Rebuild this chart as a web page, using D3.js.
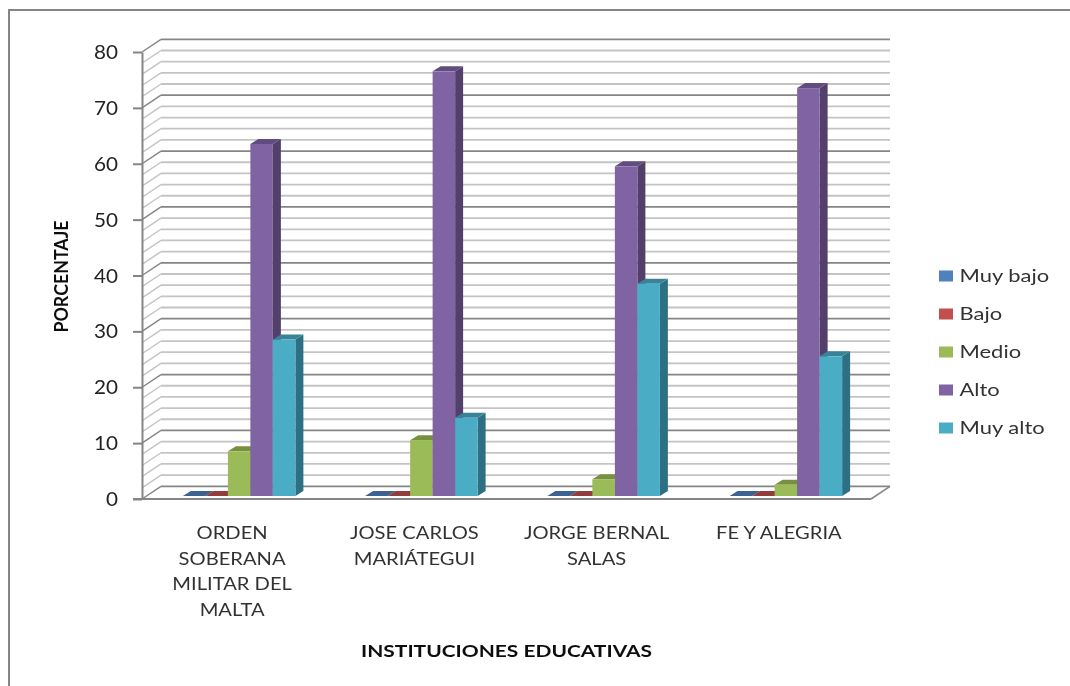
<!DOCTYPE html>
<html><head><meta charset="utf-8">
<script src="https://cdn.jsdelivr.net/npm/d3@7"></script>
<style>html,body{margin:0;padding:0;background:#fff}svg{display:block}</style></head>
<body><svg id="c" width="1070" height="686"></svg>
<script>
const categories = [
  ["ORDEN","SOBERANA","MILITAR DEL","MALTA"],
  ["JOSE CARLOS","MARIÁTEGUI"],
  ["JORGE BERNAL","SALAS"],
  ["FE Y ALEGRIA"]
];
const seriesNames = ["Muy bajo","Bajo","Medio","Alto","Muy alto"];
const muyBajo = [0,0,0,0];
const bajo = [0,0,0,0];
const medio = [8,10,3,2];
const alto = [63,76,59,73];
const muyAlto = [28,14,38,25];
const seriesValues = [muyBajo,bajo,medio,alto,muyAlto];
const fronts = ["#4F81BD","#C0504D","#9BBB59","#8064A2","#4BACC6"];
const sides = ["#2f5078","#7d3331","#65793a","#533f6b","#2f7083"];
const tops = ["#3a6291","#923c3a","#76903f","#624c80","#388398"];
const majorTicks = d3.range(0,81,10);
const minorTicks = d3.range(0,81,2);

const svg = d3.select("#c");
const font = "Lato, 'Open Sans', sans-serif";
const soft = svg.append("defs").append("filter").attr("id","soft");
soft.append("feGaussianBlur").attr("stdDeviation",0.55);
const g = svg.append("g").attr("filter","url(#soft)");

// text stretched horizontally, as in the reference
function label(x,y,str,size,sx,anchor,fill,weight){
  return g.append("text").attr("transform",`translate(${x},${y}) scale(${sx},1)`)
    .attr("text-anchor",anchor).attr("font-family",font).attr("font-size",size)
    .attr("font-weight",weight||"normal").attr("fill",fill).text(str);
}

const y = d3.scaleLinear().domain([0,80]).range([499,52]);
const x0 = d3.scaleBand().domain(d3.range(categories.length)).range([142,871]);
const wall = {dx:19, dy:-12.7};
const plane = {dx:6, dy:-3};
const depth = {dx:8, dy:-5};
const barsW = 112.5;
const x1 = d3.scaleBand().domain(seriesNames).range([-barsW/2,barsW/2]);

// frame
g.append("path").attr("d","M9,686V10H1070").attr("fill","none").attr("stroke","#858585").attr("stroke-width",2);

// walls
minorTicks.forEach(t=>{
  const major = t%10===0;
  const c = major ? "#858585" : "#c4c4c4";
  const yy = y(t);
  g.append("line").attr("x1",x0.range()[0]+wall.dx).attr("x2",x0.range()[1]+wall.dx)
    .attr("y1",yy+wall.dy).attr("y2",yy+wall.dy).attr("stroke",c).attr("stroke-width",1.8);
  g.append("line").attr("x1",x0.range()[0]).attr("x2",x0.range()[0]+wall.dx)
    .attr("y1",yy).attr("y2",yy+wall.dy).attr("stroke",c).attr("stroke-width",1.4);
});
// floor right edge
g.append("line").attr("x1",x0.range()[1]).attr("y1",y(0)).attr("x2",x0.range()[1]+wall.dx).attr("y2",y(0)+wall.dy)
  .attr("stroke","#858585").attr("stroke-width",1.6);

// axes
const yAxis = g.append("g").attr("transform",`translate(${x0.range()[0]},0)`)
  .call(d3.axisLeft(y).tickValues(majorTicks).tickSize(9).tickSizeOuter(0).tickFormat(""));
yAxis.select(".domain").attr("stroke","#858585").attr("stroke-width",2);
yAxis.selectAll(".tick line").attr("stroke","#858585").attr("stroke-width",2);
majorTicks.forEach(t=>label(118,y(t)+7,String(t),19.5,1.06,"end","#222"));
g.append("line").attr("x1",133).attr("x2",x0.range()[1]).attr("y1",y(0)).attr("y2",y(0)).attr("stroke","#858585").attr("stroke-width",2);

// bars
categories.forEach((cat,i)=>{
  const cx = x0(i)+x0.bandwidth()/2+plane.dx;
  const base = y(0)+plane.dy;
  seriesNames.forEach((s,k)=>{
    const v = seriesValues[k][i];
    const l = cx+x1(s), r = l+x1.bandwidth();
    const t = y(v)+plane.dy;
    const bar = g.append("g");
    bar.append("path").attr("fill",sides[k])
      .attr("d",`M${r},${t}L${r+depth.dx},${t+depth.dy}L${r+depth.dx},${base+depth.dy}L${r},${base}Z`);
    bar.append("path").attr("fill",tops[k])
      .attr("d",`M${l},${t}L${l+depth.dx},${t+depth.dy}L${r+depth.dx},${t+depth.dy}L${r},${t}Z`);
    if(v>0) bar.append("rect").attr("x",l).attr("y",t).attr("width",r-l).attr("height",base-t).attr("fill",fronts[k]);
  });
});

// category labels
categories.forEach((lines,i)=>{
  lines.forEach((ln,j)=>label(x0(i)+x0.bandwidth()/2-1,539+j*25.7,ln,18,1.12,"middle","#333"));
});

// titles
label(506.5,657,"INSTITUCIONES EDUCATIVAS",16.5,1.27,"middle","#111","bold");
g.append("text").attr("transform","translate(68,276.5) rotate(-90) scale(0.99,1)").attr("text-anchor","middle").attr("font-family",font)
  .attr("font-weight","bold").attr("font-size",18).attr("fill","#111").text("PORCENTAJE");

// legend
const leg = d3.scalePoint().domain(seriesNames).range([276,428]);
seriesNames.forEach((s,k)=>{
  g.append("rect").attr("x",939).attr("y",leg(s)-5.5).attr("width",14).attr("height",11).attr("fill",fronts[k]);
  label(959.5,leg(s)+6,s,18,1.22,"start","#333");
});
</script></body></html>
